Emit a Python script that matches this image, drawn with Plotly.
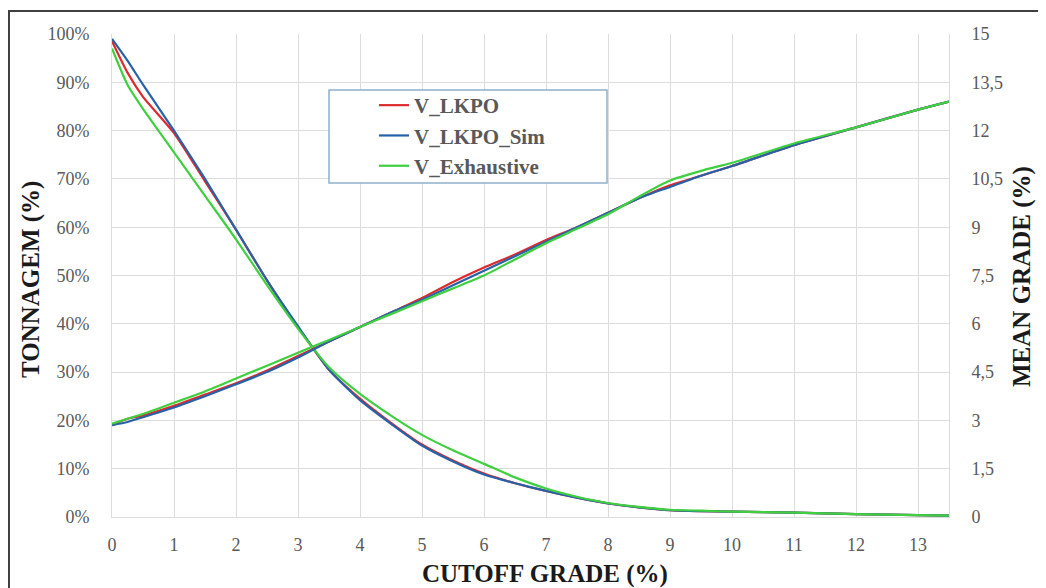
import plotly.graph_objects as go

cutoff = [0, 0.25, 0.5, 1, 1.5, 2, 2.5, 3, 3.5, 4, 4.5, 5, 5.5, 6, 6.5, 7, 7.5, 8, 8.5, 9, 9.5, 10, 11, 12, 13, 13.5]

ton_lkpo = [98.5, 92, 87, 79.5, 69.5, 59.5, 49, 39.3, 30.5, 24.5, 19.5, 15.0, 11.7, 9.0, 7.0, 5.4, 4.0, 2.8, 2.0, 1.4, 1.2, 1.1, 0.9, 0.6, 0.4, 0.3]
ton_sim = [99, 94.5, 89.5, 80, 70, 59.5, 49, 39.5, 30.5, 24.2, 19.3, 14.8, 11.5, 8.8, 7.0, 5.4, 4.0, 2.8, 2.0, 1.4, 1.2, 1.1, 0.9, 0.6, 0.4, 0.3]
ton_exh = [97, 89.5, 84.5, 75.5, 66.5, 57.5, 48, 39, 31, 25.5, 21, 17.0, 13.8, 11.0, 8.2, 5.9, 4.2, 2.9, 2.1, 1.5, 1.3, 1.1, 0.9, 0.6, 0.4, 0.3]

grade_lkpo = [2.85, 3.05, 3.15, 3.45, 3.8, 4.15, 4.55, 5.0, 5.45, 5.9, 6.35, 6.8, 7.3, 7.75, 8.15, 8.6, 9.0, 9.45, 9.9, 10.3, 10.6, 10.9, 11.55, 12.1, 12.65, 12.9]
grade_sim = [2.85, 2.95, 3.1, 3.4, 3.75, 4.12, 4.5, 4.95, 5.45, 5.9, 6.35, 6.75, 7.2, 7.65, 8.1, 8.55, 9.0, 9.45, 9.9, 10.25, 10.6, 10.9, 11.55, 12.1, 12.65, 12.9]
grade_exh = [2.9, 3.05, 3.2, 3.55, 3.9, 4.3, 4.7, 5.1, 5.5, 5.9, 6.3, 6.7, 7.1, 7.5, 8.0, 8.5, 8.95, 9.4, 9.95, 10.45, 10.75, 11.0, 11.6, 12.1, 12.65, 12.9]

names = ["V_LKPO", "V_LKPO_Sim", "V_Exhaustive"]
colors = ["#dc2b2e", "#2762a8", "#3fcf3f"]

x_ticks = list(range(0, 14))
left_ticks = [0, 10, 20, 30, 40, 50, 60, 70, 80, 90, 100]
left_text = [f"{v}%" for v in left_ticks]
right_ticks = [0, 1.5, 3, 4.5, 6, 7.5, 9, 10.5, 12, 13.5, 15]
right_text = ["0", "1,5", "3", "4,5", "6", "7,5", "9", "10,5", "12", "13,5", "15"]

FONT = "Liberation Serif"
GRAY = "#595959"
GRID = "#dcdcdc"
TICK = 18

fig = go.Figure()
for name, col, ton, grd in zip(names, colors, [ton_lkpo, ton_sim, ton_exh], [grade_lkpo, grade_sim, grade_exh]):
    fig.add_trace(go.Scatter(x=cutoff, y=ton, name=name, legendgroup=name, mode="lines",
                             line=dict(color=col, width=2.2, shape="spline", smoothing=0.6),
                             yaxis="y"))
    fig.add_trace(go.Scatter(x=cutoff, y=grd, name=name, legendgroup=name, showlegend=False, mode="lines",
                             line=dict(color=col, width=2.2, shape="spline", smoothing=0.6),
                             yaxis="y2"))

# page is offset by the 8px body margin; margins chosen so the plot sits at screen x 112..949, y 34..517
W, H = 1046, 588
L, T = 104, 26
pw, ph = 837, 483
R = W - L - pw
B = H - T - ph

def px(xs):  # screen x -> paper
    return (xs - 8 - L) / pw

def py(ys):  # screen y -> paper
    return (T + ph - (ys - 8)) / ph

fig.update_layout(
    width=W, height=H,
    margin=dict(l=L, r=R, t=T, b=B),
    paper_bgcolor="white", plot_bgcolor="white",
    font=dict(family=FONT, color=GRAY, size=TICK),
    xaxis=dict(range=[0, 13.5], tickvals=x_ticks, showgrid=True, gridcolor=GRID, gridwidth=1,
               showline=True, linecolor=GRID, mirror=False, zeroline=False,
               ticks="", ticklabelstandoff=11, tickfont=dict(size=TICK, color=GRAY, family=FONT)),
    yaxis=dict(range=[0, 100], tickvals=left_ticks, ticktext=left_text, showgrid=True, gridcolor=GRID,
               zeroline=False, showline=True, linecolor=GRID, ticks="", ticklabelstandoff=18,
               tickfont=dict(size=TICK, color=GRAY, family=FONT)),
    yaxis2=dict(range=[0, 15], tickvals=right_ticks, ticktext=right_text, overlaying="y", side="right",
                showgrid=False, zeroline=False, showline=True, linecolor=GRID, ticks="",
                ticklabelstandoff=18, tickfont=dict(size=TICK, color=GRAY, family=FONT)),
    showlegend=True,
    legend=dict(x=px(374), y=py(85), xanchor="left", yanchor="top", bgcolor="rgba(0,0,0,0)",
                borderwidth=0, itemwidth=30, tracegroupgap=0,
                font=dict(family=FONT, size=21, color=GRAY, weight="bold")),
)

# outer frame (top and left edges visible)
fig.add_shape(type="rect", xref="paper", yref="paper", x0=px(9), x1=1.3, y0=-0.3, y1=py(11),
              line=dict(color="#404040", width=2), fillcolor="rgba(0,0,0,0)", layer="above")
# legend box
fig.add_shape(type="rect", xref="paper", yref="paper", x0=px(329), x1=px(607), y0=py(183), y1=py(90),
              line=dict(color="#8fb0cc", width=1.5), fillcolor="white", layer="above")

TITLE = dict(family=FONT, size=25, color="#1a1a1a")
fig.add_annotation(text="<b>TONNAGEM (%)</b>", xref="paper", yref="paper", x=px(31), y=py(280),
                   xanchor="center", yanchor="middle", textangle=-90, showarrow=False, font=TITLE)
fig.add_annotation(text="<b>MEAN GRADE (%)</b>", xref="paper", yref="paper", x=px(1022), y=py(277),
                   xanchor="center", yanchor="middle", textangle=-90, showarrow=False, font=TITLE)
fig.add_annotation(text="<b>CUTOFF GRADE (%)</b>", xref="paper", yref="paper", x=px(545), y=py(574),
                   xanchor="center", yanchor="middle", showarrow=False, font=TITLE)

fig.write_html("out.html")
